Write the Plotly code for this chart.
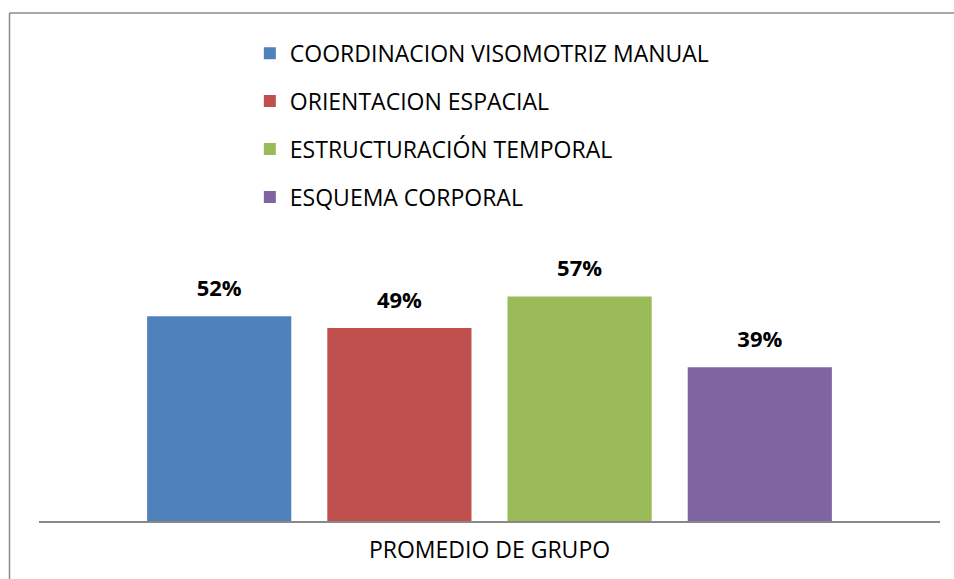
import plotly.graph_objects as go

# datos del grafico
categoria = ["PROMEDIO DE GRUPO"]
series = ["COORDINACION VISOMOTRIZ MANUAL", "ORIENTACION ESPACIAL",
          "ESTRUCTURACIÓN TEMPORAL", "ESQUEMA CORPORAL"]
valores = [52, 49, 57, 39]
colores = ["#4F81BD", "#C0504D", "#9BBB59", "#8064A2"]

fuente = "Open Sans"

fig = go.Figure()

for i in range(len(series)):
    fig.add_trace(go.Bar(
        x=categoria, y=[valores[i]], name=series[i],
        marker=dict(color=colores[i], line=dict(width=0)),
        offsetgroup=str(i), legendgroup=str(i),
    ))

# etiquetas de valor sobre cada barra
for i in range(len(series)):
    fig.add_trace(go.Scatter(
        x=categoria, y=[valores[i]], mode="markers+text",
        text=[str(valores[i]) + "%"], textposition="top center",
        textfont=dict(size=22, color="black", family=fuente, weight="bold"),
        marker=dict(size=22, opacity=0), offsetgroup=str(i),
        showlegend=False, hoverinfo="skip", cliponaxis=False,
    ))

fig.update_layout(
    width=954, height=579,
    margin=dict(l=39, r=14, t=14, b=58),
    paper_bgcolor="white", plot_bgcolor="white",
    barmode="group", bargap=0.2, bargroupgap=0.2,
    scattermode="group", scattergap=0.2,
    font=dict(family=fuente, size=23, color="black"),
    showlegend=True,
    legend=dict(x=0.234, y=0.965, xanchor="left", yanchor="top",
                orientation="v", tracegroupgap=15, traceorder="grouped",
                font=dict(size=23, family=fuente), bgcolor="rgba(0,0,0,0)"),
)

fig.update_xaxes(showline=True, linecolor="#888888", linewidth=1.5,
                 ticks="", showgrid=False, tickfont=dict(size=23),
                 ticklabelstandoff=8)
fig.update_yaxes(visible=False, range=[0, 128.7], showgrid=False)

# marco del grafico (solo se ven el borde izquierdo y el superior)
borde_x = (9.5 - 39) / 901
borde_y = 1 + 1 / 507
fig.add_shape(type="line", xref="paper", yref="paper",
              x0=borde_x, x1=borde_x, y0=-0.3, y1=borde_y,
              line=dict(color="#8C8C8C", width=1.5))
fig.add_shape(type="line", xref="paper", yref="paper",
              x0=borde_x, x1=1.2, y0=borde_y, y1=borde_y,
              line=dict(color="#8C8C8C", width=1.5))

# quitar el margen del body para que la figura ocupe toda la ventana
fig.write_html("out.html", config={"displayModeBar": False},
               post_script="document.body.style.margin='0';"
                           "document.body.style.overflow='hidden';")
